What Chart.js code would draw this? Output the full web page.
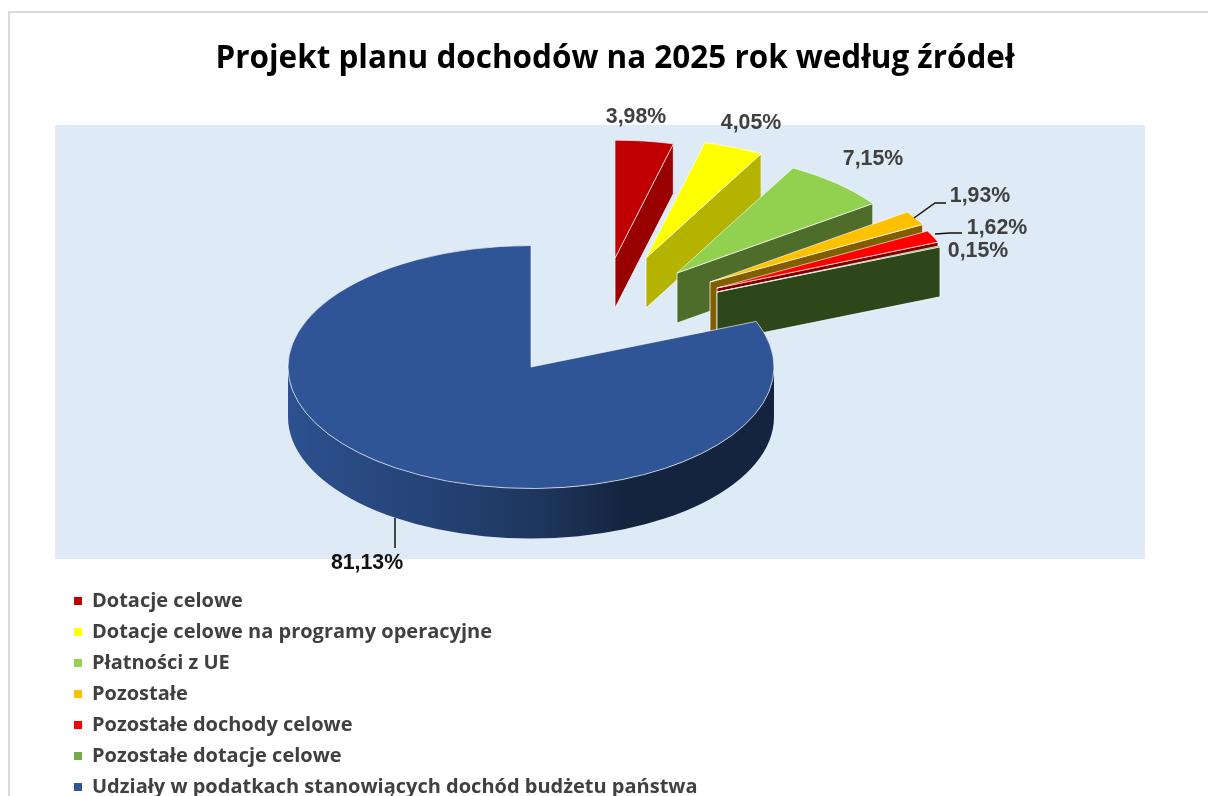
<!DOCTYPE html>
<html lang="pl">
<head>
<meta charset="utf-8">
<script src="https://cdn.jsdelivr.net/npm/chart.js@4/dist/chart.umd.min.js"></script>
<style>
html,body{margin:0;padding:0;background:#fff;overflow:hidden}
#wrap{width:1208px;height:796px;position:relative}
canvas{display:block}
</style>
</head>
<body>
<div id="wrap"><canvas id="c" width="1208" height="796"></canvas></div>
<script>
const chartTitle = 'Projekt planu dochodów na 2025 rok według źródeł';
const categories = ['Dotacje celowe','Dotacje celowe na programy operacyjne','Płatności z UE','Pozostałe','Pozostałe dochody celowe','Pozostałe dotacje celowe','Udziały w podatkach stanowiących dochód budżetu państwa'];
const seriesValues = [3.98,4.05,7.15,1.93,1.62,0.15,81.13];
const valueLabels = ['3,98%','4,05%','7,15%','1,93%','1,62%','0,15%','81,13%'];
const topColors = ['#C00000','#FFFF00','#92D050','#FFC000','#FF0000','#70AD47','#2F5597'];
const sideColors = ['#990000','#B4B400','#4E6C2A','#7F5F00','#800000','#2E471A','#1F3760'];

// layout only (pixels), separate from the data
const pieCx = 531, pieCy = 367, pieRx = 243, squash = 0.5, depth = 50;
const sliceShift = [[84,-109],[115,-109],[146,-94],[179,-85],[186,-79],[186,-75],[0,0]];
const sliceScale = [0.97,0.98,0.988,0.995,0.985,0.99,1];
const labelPos = [[636,117],[751,123],[873,159],[980,196],[997,228],[978,251],[367,563]];
const labelColor = ['#404040','#404040','#404040','#404040','#404040','#404040','#111111'];
const leaders = [[[914,218],[935,203],[946,203]],[[935,234],[950,233],[962,233]],[[395,518],[395,548]]];

const pie3d = {
  id:'pie3d',
  beforeDraw(chart){
    const ctx = chart.ctx;
    ctx.save();
    ctx.fillStyle='#fff'; ctx.fillRect(0,0,1208,796);
    ctx.fillStyle='#DEEAF6'; ctx.fillRect(55,125,1090,434);
    ctx.strokeStyle='#D9D9D9'; ctx.lineWidth=2;
    ctx.beginPath(); ctx.moveTo(9,796); ctx.lineTo(9,12); ctx.lineTo(1208,12); ctx.stroke();
    ctx.restore();
  },
  afterLayout(chart){
    const l = chart.legend;
    l.left = 63; l.right = 800; l.top = 580; l.bottom = 1100;
  },
  beforeDatasetDraw(chart){
    const ctx = chart.ctx, els = chart.getDatasetMeta(0).data;
    const n = els.length;
    for(let i=0;i<n;i++){
      const el = els[i], R = el.outerRadius;
      const s = pieRx/R*sliceScale[i];
      const ox = pieCx+sliceShift[i][0], oy = pieCy+sliceShift[i][1];
      if(i<n-1){
        // cut face at the trailing edge of an exploded slice
        const cx = ox+s*R*Math.cos(el.endAngle), cy = oy+s*squash*R*Math.sin(el.endAngle);
        ctx.save();
        ctx.beginPath();
        ctx.moveTo(ox,oy); ctx.lineTo(cx,cy); ctx.lineTo(cx,cy+depth); ctx.lineTo(ox,oy+depth); ctx.closePath();
        ctx.fillStyle=sideColors[i]; ctx.fill();
        ctx.strokeStyle='rgba(255,255,255,0.75)'; ctx.lineWidth=1; ctx.stroke();
        ctx.restore();
      } else {
        // outer wall of the large slice
        const rx = s*R, ry = rx*squash;
        const g = ctx.createLinearGradient(ox-rx,0,ox+rx,0);
        g.addColorStop(0,'#2D5190'); g.addColorStop(0.38,'#223E6D'); g.addColorStop(0.5,'#1F3760');
        g.addColorStop(0.7,'#14243F'); g.addColorStop(1,'#14233E');
        ctx.save();
        ctx.beginPath();
        ctx.moveTo(ox+rx,oy); ctx.lineTo(ox+rx,oy+depth);
        ctx.ellipse(ox,oy+depth,rx,ry,0,0,Math.PI,false);
        ctx.lineTo(ox-rx,oy);
        ctx.ellipse(ox,oy,rx,ry,0,Math.PI,0,true);
        ctx.closePath();
        ctx.fillStyle=g; ctx.fill();
        ctx.restore();
      }
      ctx.save();
      ctx.translate(ox,oy); ctx.scale(s,s*squash); ctx.translate(-el.x,-el.y);
      el.draw(ctx);
      ctx.restore();
    }
    return false;
  },
  afterDatasetsDraw(chart){
    const ctx = chart.ctx;
    ctx.save();
    ctx.strokeStyle='#111'; ctx.lineWidth=1.5;
    leaders.forEach(pts=>{
      ctx.beginPath();
      pts.forEach((p,i)=> i?ctx.lineTo(p[0],p[1]):ctx.moveTo(p[0],p[1]));
      ctx.stroke();
    });
    ctx.font='bold 21.3px "Liberation Sans"';
    ctx.textAlign='center'; ctx.textBaseline='middle';
    valueLabels.forEach((t,i)=>{
      ctx.fillStyle=labelColor[i];
      ctx.fillText(t,labelPos[i][0],labelPos[i][1]);
    });
    ctx.restore();
  }
};

new Chart(document.getElementById('c'),{
  type:'pie',
  data:{labels:categories,datasets:[{data:seriesValues,backgroundColor:topColors,borderColor:'rgba(255,255,255,0.85)',borderWidth:1.2}]},
  plugins:[pie3d],
  options:{
    responsive:false,animation:false,
    layout:{padding:{left:22}},
    plugins:{
      tooltip:{enabled:false},
      title:{display:true,text:chartTitle,color:'#000',font:{family:'"Open Sans"',size:31.45,weight:'bold'},padding:{top:40,bottom:10}},
      legend:{
        position:'left',align:'start',
        labels:{
          color:'#404040',font:{family:'"Open Sans"',size:20,weight:'bold'},
          boxWidth:8,boxHeight:8,padding:11,
          generateLabels(chart){
            return Chart.overrides.pie.plugins.legend.labels.generateLabels(chart).map(it=>({...it,lineWidth:0}));
          }
        }
      }
    }
  }
});
</script>
</body>
</html>
